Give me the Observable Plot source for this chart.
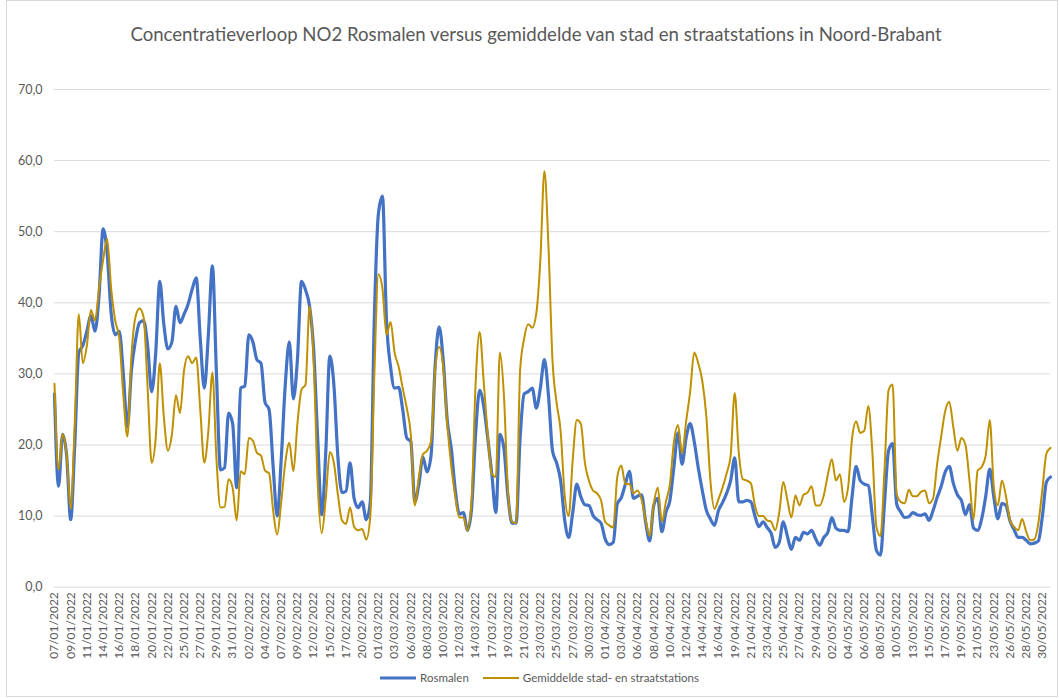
<!DOCTYPE html>
<html><head><meta charset="utf-8">
<script src="https://cdn.jsdelivr.net/npm/d3@7"></script>
<script src="https://cdn.jsdelivr.net/npm/@observablehq/plot@0.6"></script>
<style>
body{margin:0;background:#fff;}
#wrap{position:relative;width:1059px;height:698px;overflow:hidden;font-family:Lato,"Open Sans",sans-serif;color:#595959;background:#fff;}
#frame{position:absolute;left:6px;top:0;width:1052px;height:697px;border:1px solid #d9d9d9;box-sizing:border-box;pointer-events:none;}
#title{position:absolute;left:0;top:22px;width:1072px;text-align:center;font-size:18.6px;line-height:24px;}
#chart{position:absolute;left:0;top:60px;}
#legend{position:absolute;left:0;top:671px;width:1059px;display:flex;justify-content:center;align-items:center;font-size:11.5px;padding-left:20px;box-sizing:border-box;}
.item{display:flex;align-items:center;margin:0 7px;}
.item svg{margin-right:4px;}
</style></head>
<body>
<div id="wrap">
  <div id="title">Concentratieverloop NO2 Rosmalen versus gemiddelde van stad en straatstations in Noord-Brabant</div>
  <div id="chart"></div>
  <div id="legend"></div>
  <div id="frame"></div>
</div>
<script>
// x tick labels (category axis, evenly spaced)
const tickLabels = ["07/01/2022","09/01/2022","11/01/2022","14/01/2022","16/01/2022","18/01/2022","20/01/2022","22/01/2022","25/01/2022","27/01/2022","29/01/2022","31/01/2022",
"02/02/2022","04/02/2022","07/02/2022","09/02/2022","12/02/2022","15/02/2022","17/02/2022","20/02/2022",
"01/03/2022","03/03/2022","06/03/2022","08/03/2022","10/03/2022","12/03/2022","14/03/2022","17/03/2022","19/03/2022","21/03/2022","23/03/2022","25/03/2022","27/03/2022","30/03/2022",
"01/04/2022","03/04/2022","06/04/2022","08/04/2022","10/04/2022","12/04/2022","14/04/2022","16/04/2022","19/04/2022","21/04/2022","23/04/2022","25/04/2022","27/04/2022","29/04/2022",
"02/05/2022","04/05/2022","06/05/2022","08/05/2022","10/05/2022","13/05/2022","15/05/2022","17/05/2022","19/05/2022","21/05/2022","23/05/2022","26/05/2022","28/05/2022","30/05/2022"];

const yTicks = [0,10,20,30,40,50,60,70];

// samples per tick-label interval
const samplesPerLabel = 4;

const seriesNames = ["Rosmalen","Gemiddelde stad- en straatstations"];

const rosmalen = [27.2,14.2,21.5,18.5,9.5,20,33,34,36,38.2,36,41,50.4,47,38.5,35.5,36,30,22.5,30.5,
34.7,37.2,37.5,34,27.5,33,43,37,33.5,34.5,39.5,37.2,38.4,39.8,41.9,43.5,35,28,35.5,45.2,
30,16.5,16.8,24.5,23,14,28,28.3,35.5,34.5,32,31.5,26,25,17,10,18,28.5,34.5,26.5,
32,43,41.8,39.5,33.5,21,10.2,19,32.5,28.5,18.3,13.3,13.5,17.5,12.5,11.2,12,9.5,12,38,
52.5,55,37.5,31,28,28.1,25,21,20.5,12,14.5,18.3,16.2,18.5,31,36.6,32,23.5,19.5,13.6,
10.3,10.5,8,11,21.5,27.7,25.5,21,16,10.5,21.5,19.5,12.8,9,9,21,27.2,27.5,28,25.2,
28,32,27,19.2,17.5,15,9.5,7,10.5,14.5,12.7,11.6,11.5,10.1,9.5,9,6.8,6,6.3,11.7,
12.6,14.5,16.3,12.5,12.8,13,9.2,6.5,11.5,12.5,7.8,10.5,12.2,17,21.7,17.3,21,23,20.5,16.8,
13.6,10.8,9.6,8.7,10.8,11.9,13.2,15,18.2,12,12,12.2,12,10,8.5,9.2,8.4,7.6,5.6,6.3,
9.2,7.2,5.3,7,6.6,7.7,7.5,8,6.8,5.9,7,7.7,9.8,8.3,8,8,7.8,12.8,17,15,
14.5,14.3,10,5.2,4.5,11.8,19.2,20.2,11.7,10.6,9.8,9.9,10.5,10.2,10.1,10.3,9.4,10.8,12.6,14.2,
16.2,17,14.6,13,12.2,10.2,11.6,8.3,8,9.6,12.8,16.6,12.7,9.6,11.8,11.5,9.3,8.1,7,7,
6.6,6.1,6.2,6.5,10,14.8,15.5];

const gemiddelde = [28.6,16.5,21.5,18.5,11,23,38.4,31.5,34,39,37.5,42,46,49,42,37.5,35,27,21.2,32.5,
38,39.2,38,28,17.5,21,31.5,24,19.2,21.5,27,24.5,30.5,32.5,31.5,32.3,25,17.5,22,30.2,
18,11.2,11.3,15.2,14,9.4,16.3,15.9,21,20.6,18.9,18.5,16.4,16,10.8,7.4,12,17.5,20.3,16.3,
23,27.8,28.5,39.5,32,14.7,7.6,12.5,19,17.5,13,9.4,8.9,11.2,8.5,8,8.2,6.7,10,30,
44,42,35.5,37.3,33,31,28,25.2,21.5,11.5,15.5,18.7,19.2,20.5,30.5,33.8,31,23,17,12.7,
9.8,9.8,8,12,28.5,35.9,29,21.5,16,15.5,33,27,13.5,9.2,9,30.5,35,37,36.5,38.5,
46,58.5,48,31.9,26,22,13,10,18,23.5,23,17.5,15,13.6,13.2,12.2,9.2,8.7,8.4,15.5,
17.1,14.5,14.5,13.2,13.6,12.3,9.5,7.2,11.7,14,9.2,12,14.5,20.5,22.8,18.8,23.3,27.5,33,31.5,
29,24,15,11,12.4,14,16,18.5,27.3,19,15.2,15,14.6,11.5,10,10,9.4,9.2,8,10.5,
14.8,12.3,9.8,12.9,11.5,13,13.3,14.2,11.5,11.5,12.9,15.8,18,15,15.9,12,14,21,23.3,21.7,
22,25.5,19,8.5,7.2,16.5,27.7,28.5,13.1,12,11.8,13.7,12.8,12.8,13.4,13.6,11.8,12.5,17.3,21.2,
24.8,26.1,22.5,19.2,21,20,15,9.5,16.4,16.9,18.5,23.5,14.1,11.5,15,12.8,9.4,8.5,8,9.6,
7.8,6.6,6.7,9,13.8,18.8,19.6];

const colors = ["#4472C4","#BF9000"];
const widths = [3.2,2];

const toRows = (arr) => arr.map((v,i)=>({x:i/samplesPerLabel, v}));

const fmt = d => d.toFixed(1).replace(".", ",");

const chart = Plot.plot({
  width:1059, height:610,
  marginLeft:54, marginRight:9, marginTop:29, marginBottom:83.3,
  x:{domain:[0,61.5]},
  y:{domain:[0,70]},
  style:{fontFamily:'Lato, "Open Sans", sans-serif', fontSize:"12px", color:"#595959", background:"transparent"},
  marks:[
    Plot.gridY(yTicks, {stroke:"#d9d9d9", strokeOpacity:1, strokeWidth:1}),
    Plot.axisY({ticks:yTicks, tickFormat:fmt, tickSize:0, tickPadding:12, label:null, fontSize:12.5}),
    Plot.axisX({ticks:d3.range(tickLabels.length), tickFormat:i=>tickLabels[i], tickRotate:-90, tickSize:0, tickPadding:5, label:null, fontSize:12}),
    Plot.lineY(toRows(rosmalen), {x:"x", y:"v", stroke:colors[0], strokeWidth:widths[0], curve:"monotone-x", strokeLinejoin:"round"}),
    Plot.lineY(toRows(gemiddelde), {x:"x", y:"v", stroke:colors[1], strokeWidth:widths[1], curve:"monotone-x", strokeLinejoin:"round"})
  ]
});
document.getElementById("chart").appendChild(chart);

const legend = document.getElementById("legend");
seriesNames.forEach((n,k)=>{
  const it = document.createElement("div");
  it.className = "item";
  it.innerHTML = `<svg width="36" height="8"><line x1="0" y1="4" x2="36" y2="4" stroke="${colors[k]}" stroke-width="${widths[k]}"/></svg><span>${n}</span>`;
  legend.appendChild(it);
});
</script>
</body></html>
